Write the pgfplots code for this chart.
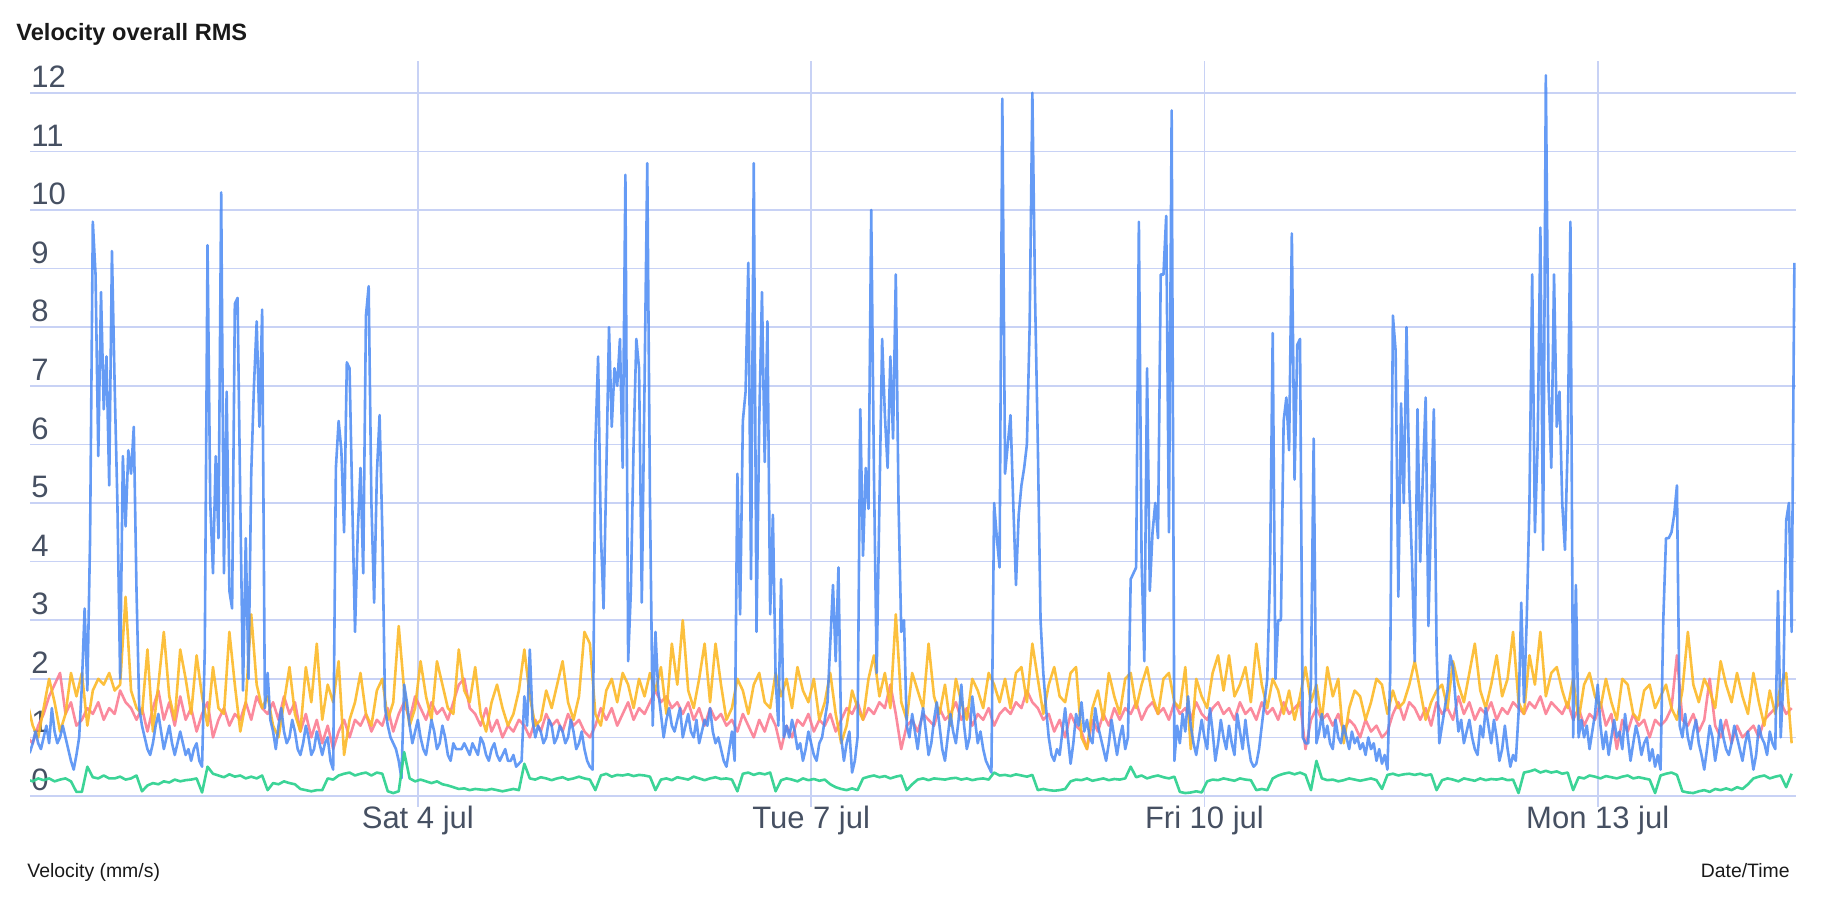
\documentclass[border=0pt]{standalone}
\usepackage{pgfplots}
\pgfplotsset{compat=1.18}
\usepackage{fontspec}
\setmainfont{Liberation Sans}
\definecolor{gridc}{RGB}{200,210,245}
\definecolor{tickc}{RGB}{70,80,98}
\definecolor{cblue}{RGB}{74,137,243}
\definecolor{cyellow}{RGB}{252,185,40}
\definecolor{cpink}{RGB}{250,118,140}
\definecolor{cgreen}{RGB}{50,210,145}
\begin{document}
\begin{tikzpicture}
\useasboundingbox (0,0) rectangle (916pt,452pt);
\node[anchor=base west, inner sep=0pt, font=\fontsize{11.8}{14}\selectfont\bfseries, text=black!90] at (8pt,431.7pt) {Velocity overall RMS};
\node[anchor=base west, inner sep=0pt, font=\fontsize{9.7}{12}\selectfont, text=black!90] at (13.5pt,13.2pt) {Velocity (mm/s)};
\node[anchor=base east, inner sep=0pt, font=\fontsize{9.7}{12}\selectfont, text=black!90] at (895pt,13.2pt) {Date/Time};
\begin{axis}[
  at={(15pt,54pt)}, anchor=south west,
  scale only axis, width=883pt, height=367.4pt,
  xmin=1, xmax=324.3, ymin=0, ymax=12.54,
  axis line style={draw=none},
  xtick={72,144,216,288},
  xticklabels={Sat 4 jul, Tue 7 jul, Fri 10 jul, Mon 13 jul},
  ytick={0,1,...,12},
  xtick pos=bottom,
  grid=major,
  grid style={line width=0.8pt, gridc},
  tick align=outside,
  major tick length=5.5pt,
  xtick style={line width=0.8pt, gridc},
  ytick style={draw=none},
  ticklabel style={font=\fontsize{15.5}{18}\selectfont, text=tickc},
  /pgf/number format/assume math mode=true,
  xticklabel style={anchor=base, yshift=-11pt},
  yticklabel style={anchor=south west, inner sep=0pt, xshift=6pt, yshift=2.35pt},
  every axis plot/.append style={line width=1.3pt, line join=round, mark=none},
]
% pink (hourly)
\addplot[cpink, draw opacity=0.85] table[header=false, row sep=\\, x expr=0.5+\coordindex, y index=0] {
1.0\\0.9\\1.2\\1.4\\1.7\\1.9\\2.1\\1.4\\1.6\\1.2\\1.3\\1.5\\1.4\\1.6\\1.3\\1.5\\1.4\\1.8\\1.6\\1.5\\
1.3\\1.5\\1.1\\1.5\\1.8\\1.3\\1.6\\1.2\\1.7\\1.3\\1.5\\1.1\\1.4\\1.6\\1.0\\1.3\\1.5\\1.2\\1.4\\1.3\\
1.6\\1.3\\1.7\\1.5\\1.4\\1.6\\1.3\\1.7\\1.4\\1.6\\1.1\\1.4\\1.0\\1.3\\0.9\\1.2\\0.8\\1.1\\1.3\\1.0\\
1.3\\1.2\\1.4\\1.1\\1.3\\1.2\\1.5\\1.1\\1.4\\1.6\\1.3\\1.7\\1.5\\1.3\\1.6\\1.4\\1.5\\1.3\\1.6\\1.9\\
2.0\\1.5\\1.4\\1.2\\1.5\\1.1\\1.3\\1.0\\1.2\\1.1\\1.3\\1.2\\1.0\\1.3\\1.1\\1.4\\1.2\\1.3\\1.1\\1.4\\
1.2\\1.3\\1.1\\1.0\\1.2\\1.5\\1.3\\1.5\\1.2\\1.4\\1.6\\1.3\\1.5\\1.4\\1.6\\1.8\\1.6\\1.7\\1.5\\1.6\\
1.4\\1.6\\1.3\\1.5\\1.2\\1.5\\1.3\\1.4\\1.2\\1.3\\1.1\\1.4\\1.2\\1.0\\1.3\\1.1\\1.4\\1.2\\0.8\\1.2\\
1.0\\1.3\\1.2\\1.4\\1.1\\1.3\\1.2\\1.4\\1.1\\1.3\\1.5\\1.4\\1.6\\1.3\\1.5\\1.4\\1.6\\1.5\\1.9\\1.4\\
0.8\\1.2\\1.3\\1.1\\1.4\\1.3\\1.2\\1.5\\1.3\\1.4\\1.6\\1.3\\1.5\\1.2\\1.4\\1.3\\1.5\\1.2\\1.4\\1.5\\
1.4\\1.6\\1.5\\1.8\\1.6\\1.5\\1.3\\1.4\\1.1\\1.3\\1.0\\1.4\\1.2\\1.1\\0.8\\1.3\\1.1\\1.4\\1.2\\1.5\\
1.3\\1.5\\1.4\\1.6\\1.3\\1.5\\1.6\\1.4\\1.5\\1.3\\1.6\\1.4\\1.5\\1.3\\1.6\\1.4\\1.3\\1.5\\1.6\\1.4\\
1.5\\1.3\\1.6\\1.4\\1.5\\1.3\\1.6\\1.4\\1.5\\1.3\\1.6\\1.4\\1.5\\1.6\\0.8\\1.3\\1.5\\1.3\\1.4\\1.2\\
1.4\\1.1\\1.3\\1.2\\1.0\\1.3\\1.1\\1.2\\1.0\\1.1\\1.4\\1.6\\1.3\\1.6\\1.5\\1.3\\1.5\\1.2\\1.6\\1.4\\
1.5\\1.3\\1.7\\1.4\\1.6\\1.3\\1.5\\1.4\\1.6\\1.3\\1.5\\1.4\\1.6\\1.5\\1.4\\1.6\\1.5\\1.7\\1.4\\1.6\\
1.5\\1.4\\1.6\\1.3\\1.5\\1.2\\1.4\\1.3\\1.6\\1.2\\1.4\\0.8\\1.3\\1.1\\1.4\\1.2\\1.3\\1.0\\1.3\\1.2\\
1.3\\1.5\\2.4\\1.3\\1.2\\1.4\\1.1\\1.3\\2.0\\1.2\\1.0\\1.3\\0.9\\1.2\\1.0\\1.1\\1.2\\1.0\\1.3\\1.4\\
1.5\\1.6\\1.4\\1.5\\
};
% yellow (hourly)
\addplot[cyellow, draw opacity=0.9] table[header=false, row sep=\\, x expr=0.5+\coordindex, y index=0] {
1.6\\1.2\\1.0\\1.5\\2.0\\1.6\\1.1\\1.4\\2.1\\1.7\\2.1\\1.2\\1.8\\2.0\\1.9\\2.1\\1.8\\1.9\\3.4\\1.8\\
1.5\\1.4\\2.5\\1.1\\1.9\\2.8\\1.7\\1.3\\2.5\\2.0\\1.4\\2.4\\1.7\\1.2\\2.2\\1.5\\1.4\\2.8\\1.9\\1.1\\
1.6\\3.1\\1.9\\1.5\\1.7\\1.2\\1.0\\1.6\\2.2\\1.4\\1.1\\2.2\\1.6\\2.6\\1.3\\1.9\\1.6\\2.3\\0.7\\1.3\\
1.6\\2.1\\1.4\\1.2\\1.8\\2.0\\1.3\\1.6\\2.9\\1.8\\1.2\\1.5\\2.3\\1.7\\1.3\\2.3\\1.9\\1.5\\1.4\\2.5\\
1.8\\1.6\\2.2\\1.4\\1.1\\1.6\\1.9\\1.5\\1.2\\1.4\\1.8\\2.5\\1.7\\1.2\\1.3\\1.8\\1.5\\1.9\\2.3\\1.6\\
1.3\\1.7\\2.8\\2.6\\1.4\\1.2\\1.8\\2.0\\1.6\\2.1\\1.9\\1.5\\2.0\\1.7\\2.1\\1.8\\2.2\\1.4\\2.6\\1.9\\
3.0\\1.8\\1.5\\2.0\\2.6\\1.6\\2.6\\1.9\\1.3\\1.5\\2.0\\1.8\\1.4\\1.9\\2.1\\1.6\\1.5\\2.1\\1.7\\2.0\\
1.5\\2.2\\1.8\\1.6\\2.0\\1.3\\1.6\\2.1\\1.4\\0.9\\1.2\\1.8\\1.5\\1.3\\2.0\\2.4\\1.7\\2.1\\1.5\\3.1\\
1.6\\1.3\\2.1\\1.8\\1.5\\2.6\\1.7\\1.4\\1.9\\1.2\\2.0\\1.6\\1.3\\2.0\\1.8\\1.5\\2.1\\1.9\\1.6\\2.0\\
1.5\\2.1\\2.2\\1.6\\2.6\\2.0\\1.4\\1.9\\2.2\\1.7\\1.6\\2.1\\2.2\\1.0\\0.8\\1.5\\1.8\\1.3\\2.1\\1.7\\
1.4\\2.0\\2.1\\1.5\\1.9\\2.2\\1.7\\1.4\\2.0\\2.1\\1.6\\1.5\\2.2\\0.8\\2.0\\1.7\\1.5\\2.1\\2.4\\1.8\\
2.4\\1.7\\1.9\\2.2\\1.6\\2.6\\1.9\\1.5\\2.0\\1.8\\1.4\\1.8\\1.3\\1.7\\2.2\\1.6\\1.9\\1.3\\2.2\\1.7\\
2.0\\0.9\\1.5\\1.8\\1.7\\1.3\\1.6\\2.0\\1.9\\1.4\\1.8\\1.5\\1.6\\1.9\\2.3\\1.8\\1.3\\1.6\\1.8\\1.9\\
1.5\\2.3\\1.9\\1.6\\2.1\\2.6\\1.8\\1.5\\1.9\\2.4\\1.7\\2.0\\2.8\\1.6\\1.4\\2.4\\1.9\\2.8\\1.7\\2.1\\
2.2\\1.8\\1.5\\2.0\\1.3\\1.9\\2.1\\1.7\\1.5\\2.0\\1.6\\1.3\\2.0\\1.9\\1.4\\1.3\\1.8\\1.9\\1.5\\1.7\\
1.9\\1.5\\1.3\\1.8\\2.8\\1.9\\1.6\\2.0\\1.8\\1.5\\2.3\\1.9\\1.6\\2.1\\1.7\\1.4\\2.1\\1.6\\1.2\\1.8\\
1.4\\1.9\\2.1\\0.9\\
};
% blue (half-hourly)
\addplot[cblue, draw opacity=0.85] table[header=false, row sep=\\, x expr=0.5+0.5*\coordindex, y index=0] {
0.7\\0.75\\0.9\\1.1\\0.9\\0.8\\1.0\\1.2\\0.9\\1.5\\1.1\\0.9\\1.0\\1.2\\1.0\\0.8\\0.6\\0.45\\0.7\\1.0\\
1.9\\3.2\\1.8\\4.4\\9.8\\8.9\\5.8\\8.6\\6.6\\7.5\\5.3\\9.3\\7.0\\5.0\\2.0\\5.8\\4.6\\5.9\\5.5\\6.3\\3.5\\1.5\\
1.2\\1.0\\0.8\\0.7\\0.9\\1.2\\1.4\\1.1\\0.8\\1.0\\1.2\\0.9\\0.7\\0.9\\1.1\\0.9\\0.7\\0.8\\0.6\\0.8\\0.9\\0.6\\0.5\\
2.5\\9.4\\5.0\\3.8\\5.8\\4.4\\10.3\\3.8\\6.9\\3.5\\3.2\\8.4\\8.5\\5.0\\1.8\\4.4\\2.0\\5.5\\7.0\\8.1\\6.3\\8.3\\1.5\\2.1\\
1.3\\1.1\\0.8\\1.2\\1.5\\1.1\\0.9\\1.0\\1.3\\1.1\\0.8\\0.7\\0.9\\1.2\\1.0\\0.7\\0.8\\1.1\\0.9\\0.7\\0.9\\1.0\\0.6\\0.45\\
5.6\\6.4\\5.9\\4.5\\7.4\\7.3\\5.0\\2.8\\4.5\\5.6\\3.8\\8.2\\8.7\\5.0\\3.3\\5.5\\6.5\\4.5\\1.5\\
1.2\\1.0\\0.9\\0.8\\0.6\\0.3\\1.9\\1.6\\1.2\\0.9\\1.1\\1.3\\1.0\\0.8\\0.7\\1.0\\1.3\\1.1\\0.8\\0.9\\1.2\\1.0\\0.7\\0.6\\0.9\\0.8\\0.8\\
0.8\\0.9\\0.8\\0.7\\0.9\\0.8\\0.7\\1.0\\0.9\\0.7\\0.6\\0.8\\0.9\\0.7\\0.6\\0.7\\0.8\\0.6\\0.6\\0.7\\0.5\\0.55\\0.6\\1.7\\1.2\\2.5\\1.3\\1.0\\1.2\\1.1\\0.9\\1.0\\1.3\\1.2\\0.9\\1.0\\1.2\\1.1\\0.9\\1.0\\1.3\\1.1\\0.8\\0.9\\1.1\\0.8\\0.6\\0.5\\0.45\\
6.0\\7.5\\4.5\\3.2\\5.5\\8.0\\6.3\\7.3\\7.0\\7.8\\5.6\\10.6\\2.3\\3.5\\6.0\\7.8\\7.3\\3.3\\7.0\\10.8\\5.0\\1.2\\2.8\\
1.8\\1.4\\1.0\\1.3\\1.5\\1.2\\1.1\\1.3\\1.5\\1.0\\1.2\\1.4\\1.1\\1.0\\1.3\\0.9\\1.1\\1.3\\1.2\\1.5\\1.1\\0.9\\1.0\\0.8\\0.6\\0.5\\0.8\\1.1\\0.6\\
5.5\\3.1\\6.4\\6.9\\9.1\\3.7\\10.8\\2.8\\6.4\\8.6\\5.7\\8.1\\3.1\\4.8\\2.0\\1.2\\3.7\\1.0\\
1.2\\1.0\\1.3\\1.1\\0.8\\0.9\\0.6\\0.8\\1.1\\0.9\\0.7\\0.6\\0.9\\1.0\\1.3\\1.6\\
2.6\\3.6\\2.3\\3.9\\1.0\\0.6\\0.9\\1.1\\0.4\\0.6\\1.0\\6.6\\4.1\\5.6\\4.9\\10.0\\5.5\\2.1\\5.0\\7.8\\6.5\\5.6\\7.5\\6.1\\8.9\\5.0\\2.8\\3.0\\
1.2\\1.0\\1.4\\1.1\\0.8\\1.2\\1.5\\1.1\\0.7\\0.9\\1.3\\1.6\\1.2\\0.8\\0.6\\1.0\\1.4\\1.1\\0.9\\1.3\\1.9\\1.2\\0.8\\1.0\\1.7\\1.3\\0.9\\1.1\\0.8\\0.6\\0.5\\0.4\\
5.0\\4.4\\3.9\\11.9\\5.5\\6.0\\6.5\\5.0\\3.6\\4.8\\5.3\\5.6\\6.0\\8.0\\12.0\\8.5\\6.0\\3.0\\2.1\\
1.5\\1.0\\0.7\\0.6\\0.8\\0.7\\1.1\\1.5\\1.0\\0.55\\0.9\\1.4\\1.2\\1.6\\1.1\\1.3\\1.0\\0.9\\1.5\\1.2\\1.0\\0.8\\0.6\\0.9\\1.3\\1.0\\0.7\\1.0\\1.2\\0.8\\1.0\\
3.7\\3.8\\3.9\\9.8\\4.0\\2.3\\7.3\\3.5\\4.5\\5.0\\4.4\\8.9\\8.9\\9.9\\4.5\\11.7\\0.6\\
1.2\\0.9\\1.4\\1.1\\1.7\\1.2\\0.9\\0.7\\1.0\\1.3\\1.0\\0.8\\1.5\\1.1\\0.6\\0.9\\1.3\\1.0\\0.8\\1.2\\0.9\\0.7\\1.4\\1.1\\0.8\\1.3\\0.9\\0.6\\0.5\\0.55\\0.8\\1.2\\1.6\\
2.0\\3.8\\7.9\\2.0\\3.0\\3.0\\6.4\\6.8\\5.9\\9.6\\5.4\\7.7\\7.8\\1.0\\0.9\\0.9\\2.0\\6.1\\0.9\\
1.1\\1.4\\1.0\\1.2\\0.9\\0.8\\1.3\\1.0\\0.9\\1.2\\1.0\\0.8\\1.1\\0.9\\1.0\\0.8\\0.9\\0.7\\1.0\\0.8\\0.9\\0.6\\0.8\\0.55\\0.7\\0.45\\
2.0\\8.2\\7.6\\3.4\\6.7\\5.0\\8.0\\5.3\\4.0\\2.3\\6.6\\4.0\\5.5\\6.8\\2.9\\4.9\\6.6\\2.5\\0.9\\
1.2\\1.5\\1.8\\2.4\\2.2\\1.6\\1.1\\1.3\\0.9\\1.1\\1.3\\1.0\\0.8\\0.7\\1.2\\1.0\\1.5\\1.2\\0.9\\1.3\\1.0\\0.6\\0.8\\1.2\\0.8\\0.5\\0.7\\0.6\\1.4\\
3.3\\1.6\\3.0\\5.0\\8.9\\4.5\\6.0\\9.7\\4.2\\12.3\\7.0\\5.6\\8.9\\6.3\\6.9\\5.0\\4.2\\6.0\\9.8\\1.0\\3.6\\1.0\\
1.3\\1.0\\1.2\\0.8\\1.1\\1.4\\1.9\\1.2\\0.8\\1.1\\0.7\\1.0\\1.3\\1.0\\1.1\\0.8\\1.4\\1.0\\0.6\\0.9\\1.2\\1.0\\0.7\\0.9\\1.0\\0.6\\0.8\\0.5\\0.7\\0.45\\
3.0\\4.4\\4.4\\4.5\\4.8\\5.3\\1.2\\
1.0\\1.4\\1.0\\0.8\\1.1\\1.3\\0.9\\0.7\\0.45\\0.8\\1.2\\1.0\\0.6\\0.9\\1.3\\1.0\\0.8\\0.7\\0.9\\1.2\\1.0\\0.8\\0.6\\0.9\\1.1\\0.8\\0.45\\0.7\\1.2\\1.0\\0.9\\0.7\\1.1\\0.9\\0.8\\
3.5\\1.0\\2.0\\4.7\\5.0\\2.8\\9.1\\
};
% green (hourly)
\addplot[cgreen, draw opacity=0.95] table[header=false, row sep=\\, x expr=0.5+\coordindex, y index=0] {
0.28\\0.25\\0.3\\0.27\\0.3\\0.25\\0.28\\0.3\\0.25\\
0.07\\0.07\\0.5\\
0.32\\0.3\\0.35\\0.3\\0.3\\0.33\\0.28\\0.3\\0.35\\
0.08\\
0.18\\0.22\\0.2\\0.25\\0.23\\0.28\\0.25\\0.27\\0.28\\0.3\\
0.06\\0.5\\
0.38\\0.35\\0.32\\0.37\\0.33\\0.35\\0.3\\0.33\\0.3\\0.35\\
0.1\\
0.22\\0.2\\0.25\\0.22\\0.2\\
0.12\\0.1\\0.08\\0.1\\0.1\\
0.3\\0.28\\
0.35\\0.38\\0.4\\0.35\\0.38\\0.4\\0.35\\0.4\\0.38\\
0.08\\0.05\\0.08\\0.75\\
0.3\\0.25\\0.28\\0.25\\0.22\\0.25\\0.2\\0.18\\0.15\\
0.12\\0.13\\0.1\\0.12\\0.11\\0.1\\0.12\\0.1\\0.08\\0.1\\0.12\\0.1\\
0.55\\
0.3\\0.28\\0.32\\0.3\\0.27\\0.3\\0.32\\0.28\\0.3\\0.33\\0.3\\0.28\\
0.1\\
0.35\\0.38\\0.33\\0.36\\0.35\\0.37\\0.34\\0.36\\0.35\\0.33\\
0.1\\
0.28\\0.3\\0.27\\0.32\\0.3\\0.28\\0.33\\0.3\\0.27\\0.3\\0.32\\0.29\\0.3\\0.28\\
0.08\\
0.38\\0.4\\0.36\\0.39\\0.37\\0.4\\
0.08\\
0.27\\0.3\\0.28\\0.25\\0.3\\0.27\\0.29\\0.26\\0.28\\
0.2\\0.15\\
0.12\\0.1\\0.13\\0.1\\
0.3\\0.33\\0.35\\0.32\\0.34\\0.3\\0.33\\0.35\\
0.1\\0.2\\
0.28\\0.3\\0.27\\0.3\\0.29\\0.28\\0.3\\0.31\\0.28\\0.3\\0.27\\0.29\\0.3\\0.28\\
0.4\\
0.35\\0.36\\0.34\\0.37\\0.35\\0.33\\0.36\\
0.1\\0.12\\0.1\\0.09\\0.1\\0.12\\
0.25\\0.28\\0.27\\0.3\\0.26\\0.28\\0.3\\0.27\\0.29\\0.28\\0.3\\
0.5\\
0.32\\0.35\\0.3\\0.33\\0.35\\0.32\\0.3\\0.33\\
0.07\\0.05\\0.06\\0.08\\0.06\\
0.25\\0.28\\0.27\\0.3\\0.28\\0.26\\0.3\\0.28\\0.27\\
0.1\\0.12\\0.1\\
0.3\\0.35\\0.38\\0.4\\0.37\\0.4\\0.36\\0.1\\
0.6\\
0.3\\0.27\\0.28\\0.25\\0.27\\0.3\\0.28\\0.26\\0.28\\0.3\\0.27\\0.12\\
0.36\\0.38\\0.35\\0.37\\0.38\\0.36\\0.38\\0.35\\0.37\\
0.1\\
0.27\\0.3\\0.28\\0.25\\0.3\\0.28\\0.26\\0.3\\0.27\\0.29\\0.28\\0.3\\0.27\\0.28\\
0.05\\
0.4\\0.42\\0.45\\0.4\\0.43\\0.4\\0.42\\0.38\\0.4\\
0.1\\
0.32\\0.3\\0.35\\0.33\\0.3\\0.34\\0.32\\0.3\\0.33\\0.35\\0.3\\0.32\\0.3\\0.28\\
0.05\\
0.35\\0.38\\0.4\\0.36\\
0.08\\0.06\\0.05\\0.08\\0.1\\0.07\\
0.12\\0.1\\0.13\\0.1\\0.15\\0.12\\0.2\\
0.3\\0.33\\0.35\\0.3\\0.33\\0.35\\
0.15\\0.38\\
};
\end{axis}
\end{tikzpicture}
\end{document}
